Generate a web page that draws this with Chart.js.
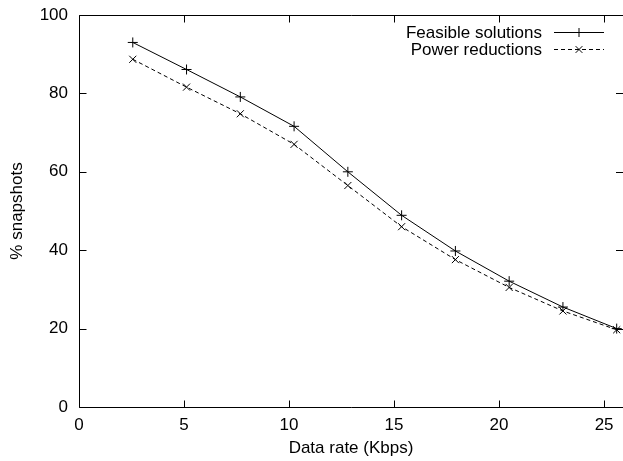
<!DOCTYPE html>
<html>
<head>
<meta charset="utf-8">
<script src="https://cdn.jsdelivr.net/npm/chart.js@4/dist/chart.umd.min.js"></script>
<style>
  html, body { margin: 0; padding: 0; background: #fff; }
  #wrap { width: 623px; height: 461px; }
</style>
</head>
<body>
<div id="wrap"><canvas id="chart" width="623" height="461"></canvas></div>
<script>
// Data rates (Kbps)
const dataRates = [2.56, 5.12, 7.68, 10.24, 12.8, 15.36, 17.92, 20.48, 23.04, 25.6];
// % snapshots
const feasibleSolutions = [93.0, 86.1, 79.1, 71.6, 60.0, 48.9, 39.8, 32.1, 25.5, 20.0];
const powerReductions = [88.7, 81.6, 74.8, 67.0, 56.5, 46.0, 37.6, 30.5, 24.5, 19.7];
const seriesNames = ['Feasible solutions', 'Power reductions'];

const FONT = 'Liberation Sans, Arial, Helvetica, sans-serif';

// gnuplot-like frame with inward ticks (right border is cut off in the original)
const framePlugin = {
    id: 'frame',
    afterDraw(chart) {
        const ctx = chart.ctx;
        const a = chart.chartArea;
        const xs = chart.scales.x, ys = chart.scales.y;
        const left = Math.round(a.left) + 0.5, right = Math.round(a.right);
        const top = Math.round(a.top) + 0.5, bottom = Math.round(a.bottom) + 0.5;
        const tl = 7;
        ctx.save();
        ctx.strokeStyle = '#000';
        ctx.lineWidth = 1;
        ctx.beginPath();
        ctx.moveTo(right, top); ctx.lineTo(left, top);
        ctx.lineTo(left, bottom); ctx.lineTo(right, bottom);
        xs.ticks.forEach(t => {
            const px = Math.round(xs.getPixelForValue(t.value)) + 0.5;
            ctx.moveTo(px, bottom); ctx.lineTo(px, bottom - tl);
            ctx.moveTo(px, top); ctx.lineTo(px, top + tl);
        });
        ys.ticks.forEach(t => {
            const py = Math.round(ys.getPixelForValue(t.value)) + 0.5;
            ctx.moveTo(left, py); ctx.lineTo(left + tl, py);
            ctx.moveTo(right, py); ctx.lineTo(right - tl, py);
        });
        ctx.stroke();

        // legend: text right aligned, line sample with marker
        ctx.font = '17px ' + FONT;
        ctx.fillStyle = '#000';
        ctx.textAlign = 'right';
        ctx.textBaseline = 'middle';
        const rows = [32.5, 49.5];
        chart.data.datasets.forEach((ds, i) => {
            const y = rows[i];
            ctx.fillText(ds.label, 542, y + 1);
            ctx.beginPath();
            ctx.setLineDash(ds.borderDash || []);
            ctx.moveTo(554, y); ctx.lineTo(604, y);
            ctx.stroke();
            ctx.setLineDash([]);
            ctx.beginPath();
            const r = 4.5;
            if (ds.pointStyle === 'cross') {
                ctx.moveTo(579 - r, y); ctx.lineTo(579 + r, y);
                ctx.moveTo(579, y - r); ctx.lineTo(579, y + r);
            } else {
                ctx.moveTo(579 - r * 0.75, y - r * 0.75); ctx.lineTo(579 + r * 0.75, y + r * 0.75);
                ctx.moveTo(579 - r * 0.75, y + r * 0.75); ctx.lineTo(579 + r * 0.75, y - r * 0.75);
            }
            ctx.stroke();
        });
        ctx.restore();
    }
};

new Chart(document.getElementById('chart').getContext('2d'), {
    type: 'line',
    data: {
        datasets: [{
            label: seriesNames[0],
            data: dataRates.map((x, i) => ({ x: x, y: feasibleSolutions[i] })),
            borderColor: '#000',
            borderWidth: 1,
            pointStyle: 'cross',
            pointRadius: 5,
            pointBorderWidth: 1,
            pointBorderColor: '#000',
            tension: 0
        }, {
            label: seriesNames[1],
            data: dataRates.map((x, i) => ({ x: x, y: powerReductions[i] })),
            borderColor: '#000',
            borderWidth: 1,
            borderDash: [4, 3],
            pointStyle: 'crossRot',
            pointRadius: 5,
            pointBorderWidth: 1,
            pointBorderColor: '#000',
            tension: 0
        }]
    },
    options: {
        responsive: false,
        animation: false,
        layout: { autoPadding: false, padding: { top: 15, right: 0, left: 0, bottom: 0 } },
        plugins: {
            legend: { display: false },
            tooltip: { enabled: false }
        },
        scales: {
            x: {
                type: 'linear',
                min: 0,
                max: 25.9,
                grid: { display: false, drawTicks: false },
                border: { display: false },
                ticks: {
                    stepSize: 5,
                    includeBounds: false,
                    padding: 8,
                    color: '#000',
                    font: { family: FONT, size: 17 }
                },
                title: {
                    display: true,
                    text: 'Data rate (Kbps)',
                    color: '#000',
                    font: { family: FONT, size: 17 },
                    padding: { top: 0, bottom: 2 }
                },
                afterFit(scale) {
                    scale.height = 54;
                    scale.paddingLeft = 0;
                    scale.paddingRight = 0;
                }
            },
            y: {
                min: 0,
                max: 100,
                grid: { display: false, drawTicks: false },
                border: { display: false },
                ticks: {
                    stepSize: 20,
                    padding: 11,
                    color: '#000',
                    font: { family: FONT, size: 17 }
                },
                title: {
                    display: true,
                    text: '% snapshots',
                    color: '#000',
                    font: { family: FONT, size: 17 },
                    padding: { top: 7, bottom: 4 }
                },
                afterFit(scale) {
                    scale.width = 79;
                    scale.paddingTop = 0;
                    scale.paddingBottom = 0;
                }
            }
        }
    },
    plugins: [framePlugin]
});
</script>
</body>
</html>
